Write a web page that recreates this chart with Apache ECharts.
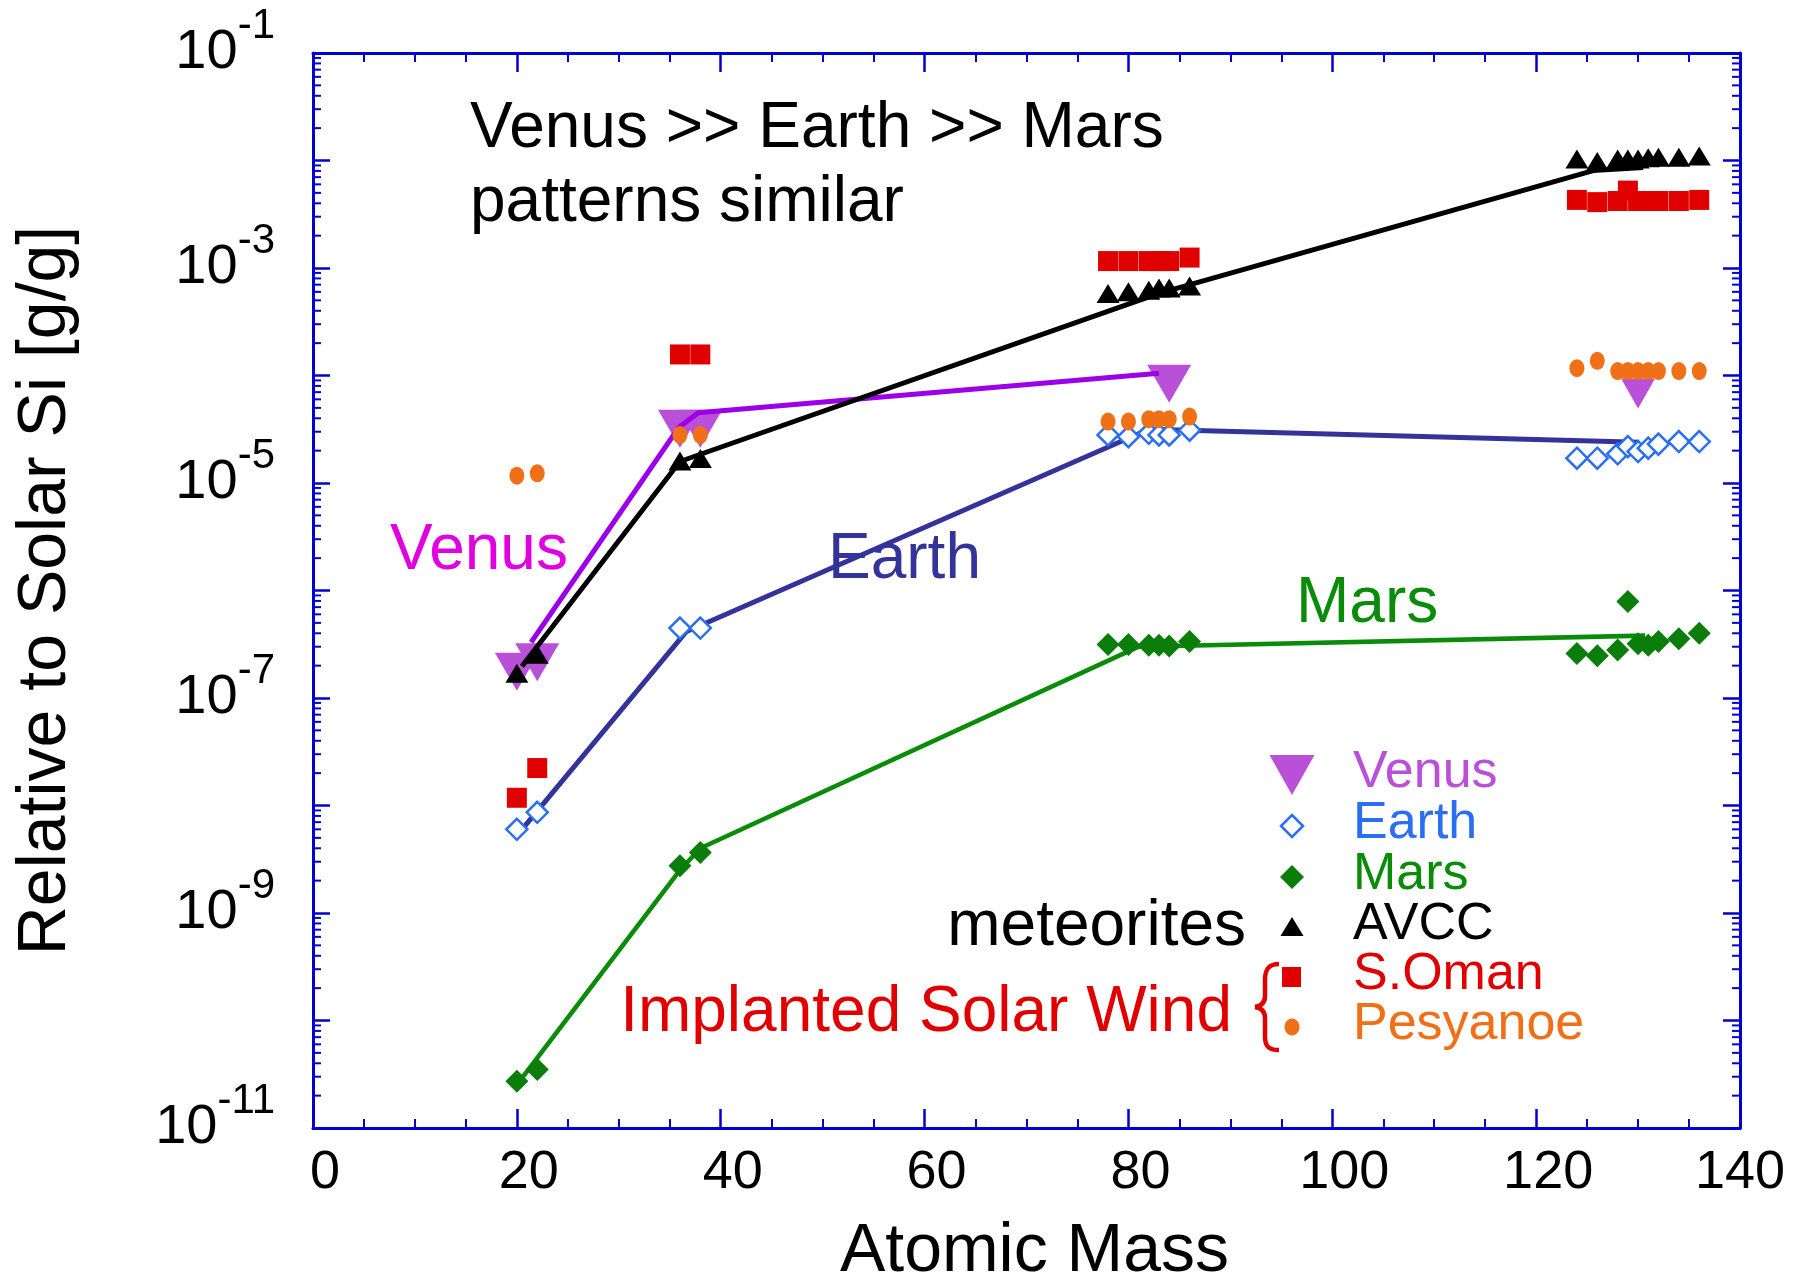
<!DOCTYPE html>
<html>
<head>
<meta charset="utf-8">
<title>Noble gas abundances relative to solar Si</title>
<script src="https://cdn.jsdelivr.net/npm/echarts@6/dist/echarts.min.js"></script>
<style>
  html, body { margin: 0; padding: 0; background: #ffffff; }
  #chart { width: 1809px; height: 1280px; }
</style>
</head>
<body>
<div id="chart"></div>
<script>
// ---------------------------------------------------------------
// Isotope masses (Ne, Ar, Kr, Xe)
// ---------------------------------------------------------------
const isotopeMass = [20, 22, 36, 38, 78, 80, 82, 83, 84, 86,
                     124, 126, 128, 129, 130, 131, 132, 134, 136];

// Venus (only a few isotopes measured)
const venusMass  = [20, 22, 36, 38, 84, 130];
const venusValue = [1.75e-7, 2.15e-7, 3.2e-5, 3.2e-5, 8.4e-5, 6.8e-5];

// Abundances relative to solar Si [g/g], one entry per isotopeMass
const earthValue = [6.0e-9, 8.65e-9, 4.47e-7, 4.47e-7,
                    2.8e-5, 2.7e-5, 2.9e-5, 2.8e-5, 2.8e-5, 3.1e-5,
                    1.70e-5, 1.70e-5, 1.87e-5, 2.18e-5, 1.96e-5, 2.11e-5, 2.30e-5, 2.43e-5, 2.43e-5];
const marsValue  = [2.72e-11, 3.5e-11, 2.75e-9, 3.65e-9,
                    3.15e-7, 3.15e-7, 3.1e-7, 3.1e-7, 3.05e-7, 3.35e-7,
                    2.6e-7, 2.47e-7, 2.8e-7, 7.9e-7, 3.2e-7, 3.1e-7, 3.35e-7, 3.55e-7, 4.0e-7];
const avccValue  = [1.7e-7, 2.55e-7, 1.60e-5, 1.69e-5,
                    5.8e-4, 6.0e-4, 6.2e-4, 6.5e-4, 6.5e-4, 6.8e-4,
                    1.03e-2, 9.8e-3, 1.03e-2, 1.03e-2, 1.03e-2, 1.06e-2, 1.07e-2, 1.07e-2, 1.10e-2];
const somanValue = [1.18e-8, 2.23e-8, 1.57e-4, 1.57e-4,
                    1.16e-3, 1.16e-3, 1.16e-3, 1.16e-3, 1.16e-3, 1.25e-3,
                    4.3e-3, 4.1e-3, 4.2e-3, 5.25e-3, 4.2e-3, 4.2e-3, 4.2e-3, 4.2e-3, 4.3e-3];
const pesyValue  = [1.17e-5, 1.23e-5, 2.8e-5, 2.8e-5,
                    3.73e-5, 3.73e-5, 3.92e-5, 3.92e-5, 3.92e-5, 4.15e-5,
                    1.17e-4, 1.37e-4, 1.1e-4, 1.1e-4, 1.1e-4, 1.1e-4, 1.1e-4, 1.1e-4, 1.1e-4];

// Trend lines through the element groups
const venusTrendMass  = [21.4, 35.9, 37.8, 83];
const venusTrendValue = [3.3e-7, 3.3e-5, 4.5e-5, 1.05e-4];
const earthTrendMass  = [20, 36.6, 82, 130.1];
const earthTrendValue = [5.25e-9, 4.13e-7, 3.16e-5, 2.4e-5];
const marsTrendMass   = [19.9, 36, 38, 81, 130.7];
const marsTrendValue  = [2.45e-11, 2.5e-9, 4.0e-9, 3.0e-7, 3.8e-7];
const avccTrendMass   = [20.5, 36, 83, 125.6, 130.5];
const avccTrendValue  = [1.97e-7, 1.585e-5, 5.8e-4, 8.05e-3, 8.6e-3];

// Axis ranges and labelled decades
const X_MIN = 0, X_MAX = 140, X_STEP = 20;
const Y_MIN_EXP = -11, Y_MAX_EXP = -1;
const yLabelExponents = [-11, -9, -7, -5, -3, -1];

// ---------------------------------------------------------------
const FONT = '"Liberation Sans", Arial, Helvetica, sans-serif';
const AXIS_BLUE = '#0000d0';
const C_VENUS = '#bb50d8', C_VENUS_LINE = '#9b00e8', C_VENUS_TEXT = '#e000e0';
const C_EARTH = '#2a6ef2', C_EARTH_LINE = '#333399';
const C_MARS = '#0b7d0b', C_MARS_LINE = '#0a8c0a';
const C_SOMAN = '#e00000', C_PESY = '#f07018';
const ELLIPSE = 'path://M0,-1A1,1,0,1,1,0,1A1,1,0,1,1,0,-1Z';

const toLogPairs = (xs, ys) => xs.map((x, i) => [x, Math.log10(ys[i])]);

// minor tick positions (2..9 x 10^k) on the log axis
const yMinorTicks = [];
for (let k = Y_MIN_EXP; k < Y_MAX_EXP; k++) {
  for (let j = 2; j <= 9; j++) yMinorTicks.push(k + Math.log10(j));
}

const chart = echarts.init(document.getElementById('chart'), null, { renderer: 'canvas' });

function xAxisCfg(pos) {
  return {
    type: 'value', position: pos, min: X_MIN, max: X_MAX, interval: X_STEP,
    axisLine: { show: true, onZero: false, lineStyle: { color: AXIS_BLUE, width: 3 } },
    axisTick: { show: true, inside: true, length: 19, lineStyle: { color: AXIS_BLUE, width: 2.5 } },
    minorTick: { show: true, splitNumber: 4, length: 9, lineStyle: { color: AXIS_BLUE, width: 2 } },
    splitLine: { show: false },
    axisLabel: pos === 'bottom' ? {
      show: true, margin: 18, showMinLabel: true, showMaxLabel: true,
      // labels sit slightly right of their ticks, except the last one
      formatter: v => (v >= X_MAX ? '{e|' : '{n|') + v + '}',
      rich: {
        n: { fontFamily: FONT, fontSize: 54, color: '#000', padding: [0, 0, 0, 24] },
        e: { fontFamily: FONT, fontSize: 54, color: '#000' }
      }
    } : { show: false },
    name: pos === 'bottom' ? 'Atomic Mass' : '',
    nameLocation: 'middle', nameGap: 90,
    nameTextStyle: { fontFamily: FONT, fontSize: 68, color: '#000', padding: [0, 0, 0, 16] }
  };
}

function yAxisCfg(pos) {
  return {
    type: 'value', position: pos, min: Y_MIN_EXP, max: Y_MAX_EXP, interval: 1,
    axisLine: { show: true, onZero: false, lineStyle: { color: AXIS_BLUE, width: 3 } },
    axisTick: { show: true, inside: true, length: 17, lineStyle: { color: AXIS_BLUE, width: 2.5 } },
    splitLine: { show: false },
    axisLabel: pos === 'left' ? {
      show: true, margin: 38, color: '#000',
      formatter: v => {
        const e = Math.round(v);
        return yLabelExponents.indexOf(e) >= 0 ? '{b|10}{s|' + e + '}' : '';
      },
      rich: {
        b: { fontFamily: FONT, fontSize: 56, lineHeight: 96, verticalAlign: 'middle', color: '#000' },
        s: { fontFamily: FONT, fontSize: 42, lineHeight: 50, verticalAlign: 'top', color: '#000' }
      }
    } : { show: false },
    name: pos === 'left' ? 'Relative to Solar Si [g/g]' : '',
    nameLocation: 'middle', nameRotate: 90, nameGap: 233,
    nameTextStyle: { fontFamily: FONT, fontSize: 68, color: '#000' }
  };
}

function scatter(name, xs, ys, symbol, size, style, z, extra) {
  return Object.assign({
    name, type: 'scatter', data: toLogPairs(xs, ys), symbol, symbolSize: size,
    itemStyle: Object.assign({ opacity: 1 }, style), z, silent: true
  }, extra || {});
}

function trend(name, xs, ys, color, width) {
  return {
    name, type: 'line', data: toLogPairs(xs, ys), showSymbol: false, symbol: 'none',
    lineStyle: { color, width }, z: 3, silent: true
  };
}

// legend block (symbol column and text column)
const LEG_SYM_X = 1292, LEG_TXT_X = 1353;
const legRows = [
  { text: 'Venus',    color: C_VENUS, y: 775 },
  { text: 'Earth',    color: C_EARTH, y: 826 },
  { text: 'Mars',     color: C_MARS_LINE, y: 877 },
  { text: 'AVCC',     color: '#000',  y: 927 },
  { text: 'S.Oman',   color: C_SOMAN, y: 977 },
  { text: 'Pesyanoe', color: C_PESY,  y: 1027 }
];

function txt(text, x, y, size, color, align) {
  return {
    type: 'text', x, y, z: 100,
    style: { text, fontFamily: FONT, fontSize: size, fill: color, align: align || 'left', verticalAlign: 'middle' }
  };
}

const graphics = [];
// annotations
graphics.push(txt('Venus >> Earth >> Mars', 470, 129, 64, '#000'));
graphics.push(txt('patterns similar', 470, 203, 64, '#000'));
graphics.push(txt('Venus', 390, 551, 64, C_VENUS_TEXT));
graphics.push(txt('Earth', 828, 560, 64, C_EARTH_LINE));
graphics.push(txt('Mars', 1296, 604, 64, C_MARS_LINE));
graphics.push(txt('meteorites', 1246, 927, 64, '#000', 'right'));
graphics.push(txt('Implanted Solar Wind', 1232, 1013, 64, C_SOMAN, 'right'));

// brace grouping the solar-wind samples
const braceStyle = { stroke: C_SOMAN, lineWidth: 4.5, fill: null };
const braceParts = [
  { type: 'bezierCurve', shape: { x1: 1279, y1: 964, cpx1: 1268, cpy1: 964, cpx2: 1265, cpy2: 970, x2: 1265, y2: 980 } },
  { type: 'line', shape: { x1: 1265, y1: 980, x2: 1265, y2: 996 } },
  { type: 'bezierCurve', shape: { x1: 1265, y1: 996, cpx1: 1265, cpy1: 1003, cpx2: 1261, cpy2: 1006, x2: 1255, y2: 1007 } },
  { type: 'bezierCurve', shape: { x1: 1255, y1: 1007, cpx1: 1261, cpy1: 1008, cpx2: 1265, cpy2: 1011, x2: 1265, y2: 1018 } },
  { type: 'line', shape: { x1: 1265, y1: 1018, x2: 1265, y2: 1036 } },
  { type: 'bezierCurve', shape: { x1: 1265, y1: 1036, cpx1: 1265, cpy1: 1046, cpx2: 1268, cpy2: 1050, x2: 1279, y2: 1050 } }
];
braceParts.forEach(p => graphics.push(Object.assign({ z: 100, style: braceStyle }, p)));

// legend texts
legRows.forEach(r => graphics.push(txt(r.text, LEG_TXT_X, r.y - 2, 52, r.color)));
// legend symbols
const L = legRows;
graphics.push({ type: 'polygon', z: 100, shape: { points: [[LEG_SYM_X - 22.5, L[0].y - 20], [LEG_SYM_X + 22.5, L[0].y - 20], [LEG_SYM_X, L[0].y + 20]] }, style: { fill: C_VENUS } });
graphics.push({ type: 'polygon', z: 100, shape: { points: [[LEG_SYM_X, L[1].y - 11], [LEG_SYM_X + 11, L[1].y], [LEG_SYM_X, L[1].y + 11], [LEG_SYM_X - 11, L[1].y]] }, style: { fill: '#fff', stroke: C_EARTH, lineWidth: 2.5 } });
graphics.push({ type: 'polygon', z: 100, shape: { points: [[LEG_SYM_X, L[2].y - 12], [LEG_SYM_X + 12, L[2].y], [LEG_SYM_X, L[2].y + 12], [LEG_SYM_X - 12, L[2].y]] }, style: { fill: C_MARS } });
graphics.push({ type: 'polygon', z: 100, shape: { points: [[LEG_SYM_X, L[3].y - 10], [LEG_SYM_X + 11.5, L[3].y + 9], [LEG_SYM_X - 11.5, L[3].y + 9]] }, style: { fill: '#000' } });
graphics.push({ type: 'rect', z: 100, shape: { x: LEG_SYM_X - 10, y: L[4].y - 10, width: 19, height: 20 }, style: { fill: C_SOMAN } });
graphics.push({ type: 'ellipse', z: 100, shape: { cx: LEG_SYM_X, cy: L[5].y, rx: 7.5, ry: 8.5 }, style: { fill: C_PESY } });

const option = {
  backgroundColor: '#ffffff',
  animation: false,
  grid: { left: 313, top: 53, right: 69, bottom: 152, containLabel: false, outerBoundsMode: 'none' },
  xAxis: [xAxisCfg('bottom'), xAxisCfg('top')],
  yAxis: [yAxisCfg('left'), yAxisCfg('right')],
  series: [
    scatter('Venus', venusMass, venusValue, 'triangle',
      (v, p) => p.dataIndex === venusMass.length - 1 ? [34, 30] : [44, 38],
      { color: C_VENUS }, 2, { symbolRotate: 180 }),
    trend('Venus trend', venusTrendMass, venusTrendValue, C_VENUS_LINE, 5),
    trend('Earth trend', earthTrendMass, earthTrendValue, C_EARTH_LINE, 5),
    trend('Mars trend', marsTrendMass, marsTrendValue, C_MARS_LINE, 4.6),
    trend('AVCC trend', avccTrendMass, avccTrendValue, '#000', 5),
    scatter('Earth', isotopeMass, earthValue, 'diamond', 21,
      { color: '#ffffff', borderColor: C_EARTH, borderWidth: 2.5 }, 4),
    scatter('Mars', isotopeMass, marsValue, 'diamond', 23, { color: C_MARS }, 4),
    scatter('AVCC', isotopeMass, avccValue, 'triangle', [23, 19], { color: '#000' }, 4),
    scatter('S.Oman', isotopeMass, somanValue, 'rect', [20, 20], { color: C_SOMAN }, 5),
    scatter('Pesyanoe', isotopeMass, pesyValue, ELLIPSE, [15, 18], { color: C_PESY }, 5),
    {
      // minor ticks on the left and right log axes
      name: 'minor ticks', type: 'custom', silent: true, z: 6, clip: false,
      encode: { x: 0, y: 1 },
      data: yMinorTicks.map(v => [X_MIN, v]),
      renderItem: (params, api) => {
        const y = api.value(1);
        const l = api.coord([X_MIN, y]);
        const r = api.coord([X_MAX, y]);
        const st = { stroke: AXIS_BLUE, lineWidth: 2 };
        return {
          type: 'group', children: [
            { type: 'line', shape: { x1: l[0], y1: l[1], x2: l[0] + 8, y2: l[1] }, style: st },
            { type: 'line', shape: { x1: r[0] - 8, y1: r[1], x2: r[0], y2: r[1] }, style: st }
          ]
        };
      }
    }
  ],
  graphic: graphics
};

chart.setOption(option);
</script>
</body>
</html>
